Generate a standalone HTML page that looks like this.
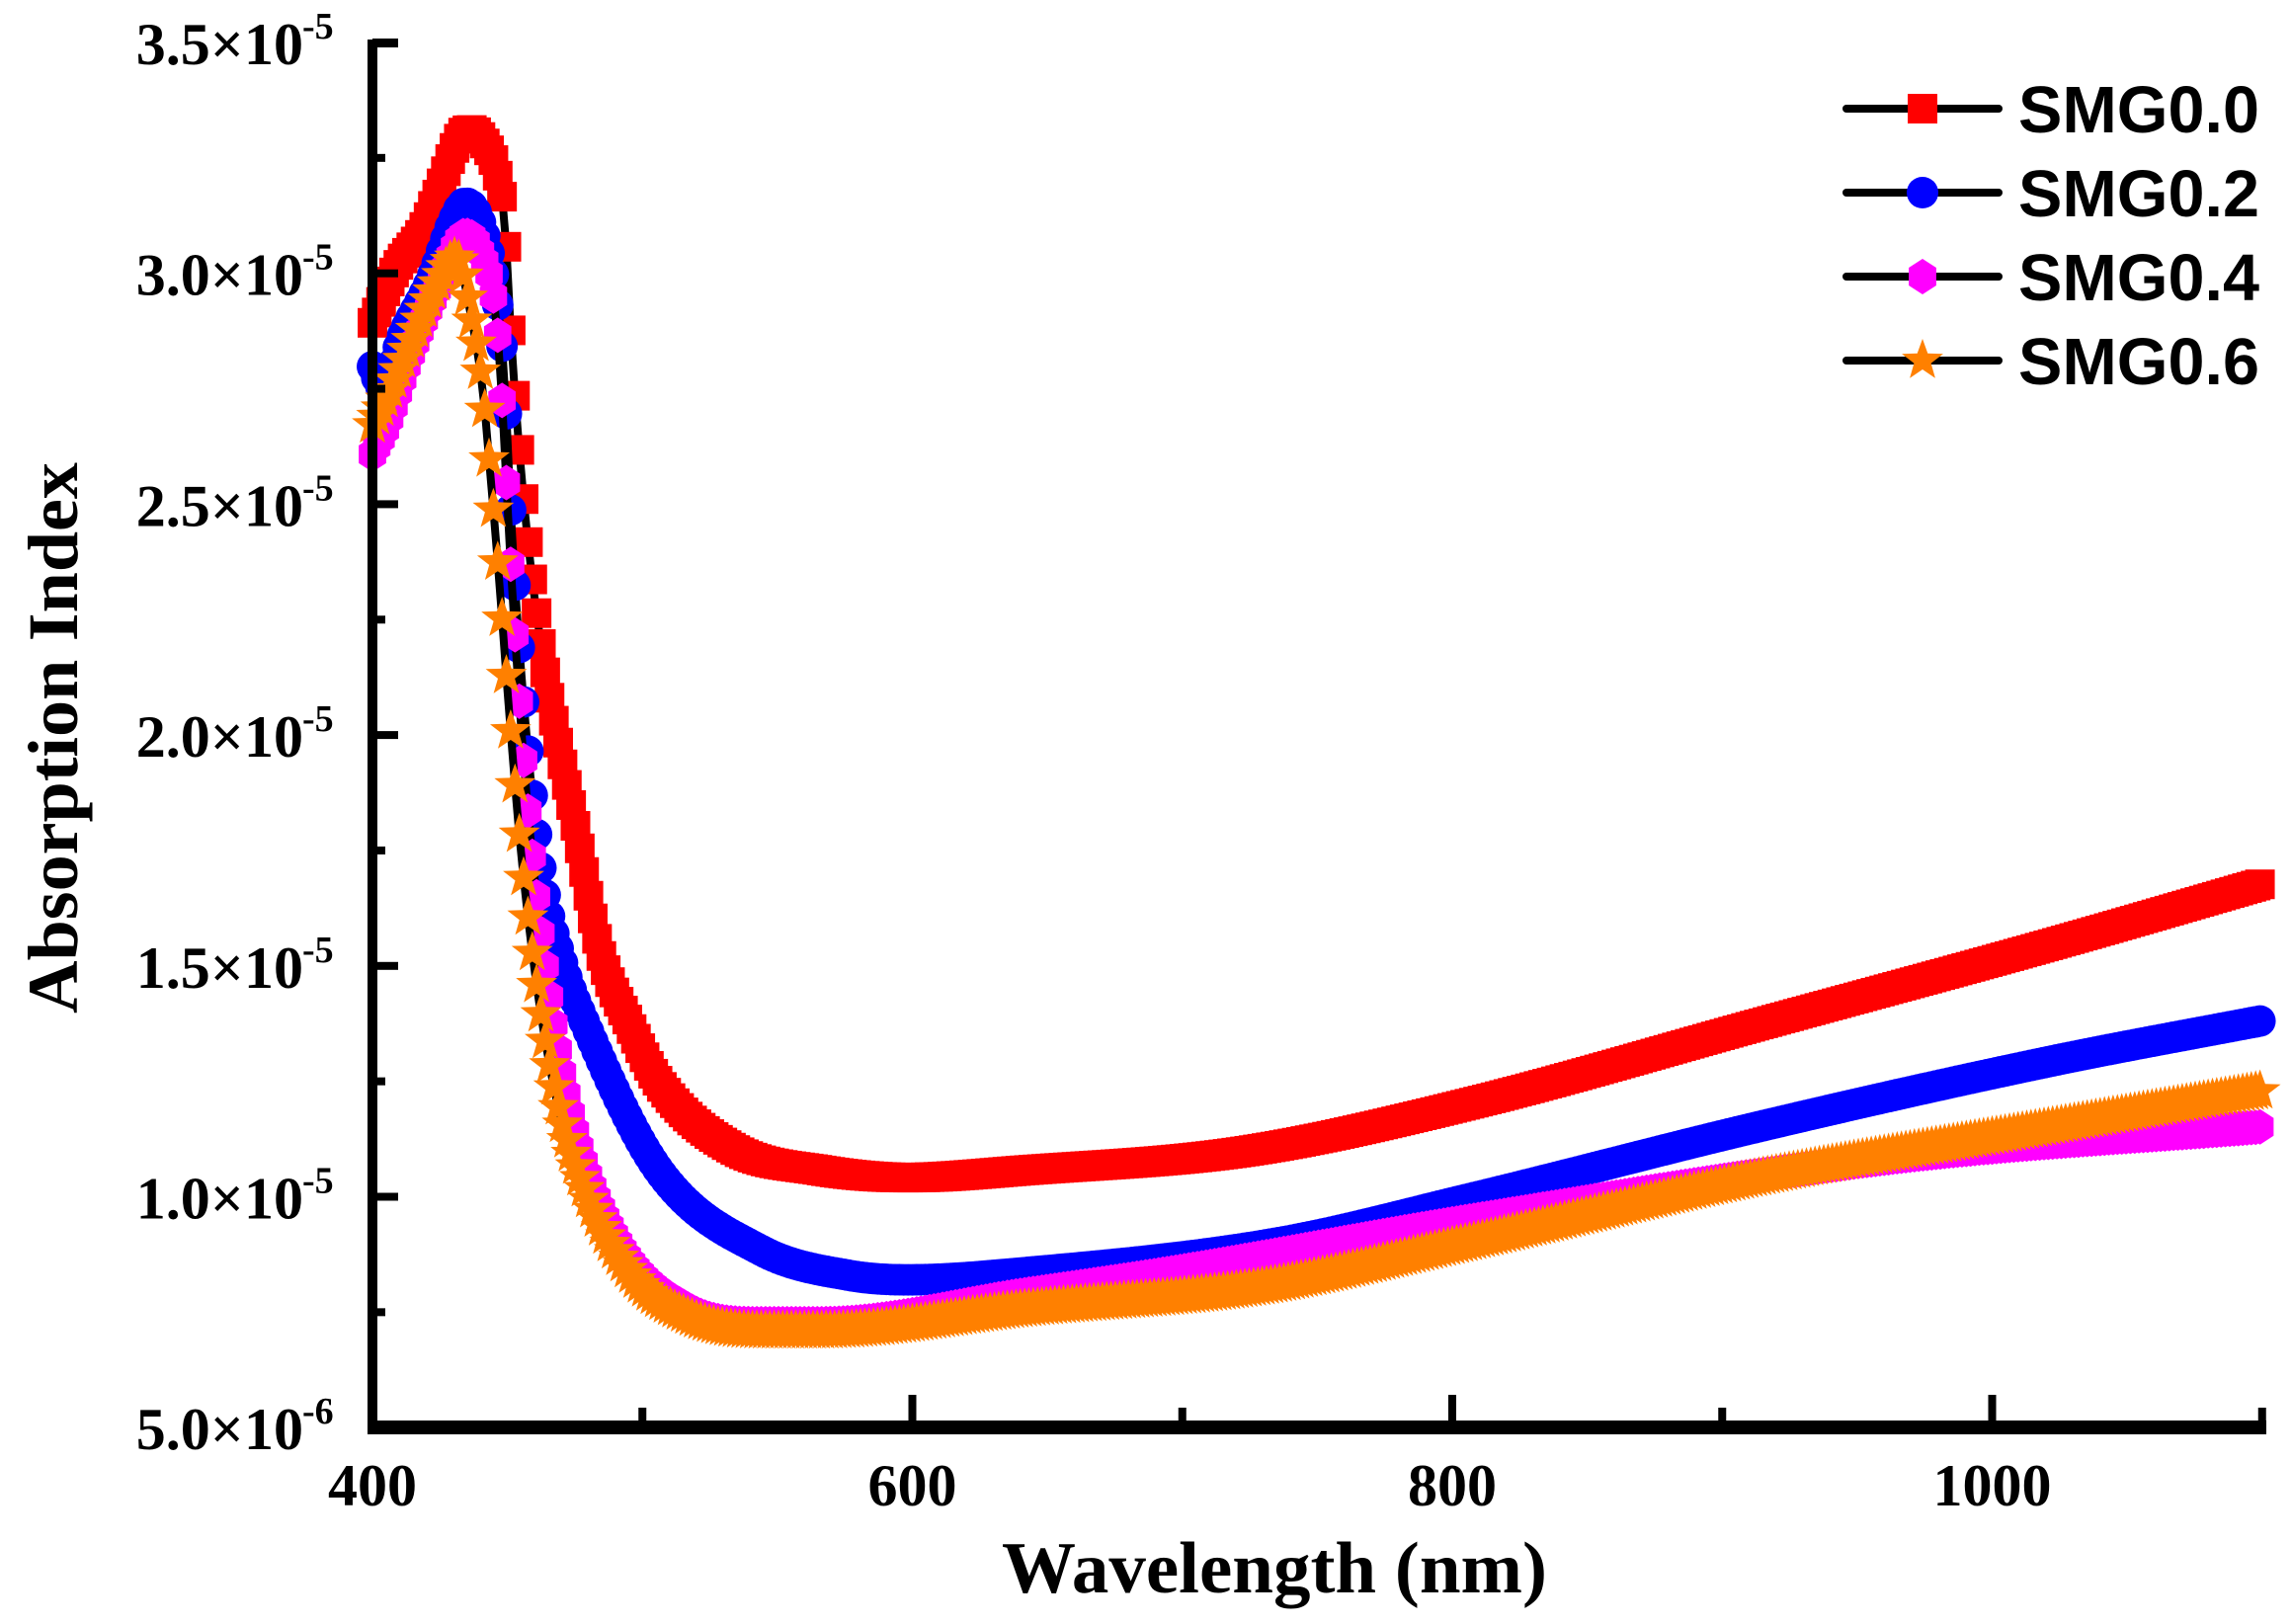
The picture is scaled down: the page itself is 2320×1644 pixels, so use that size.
<!DOCTYPE html>
<html><head><meta charset="utf-8"><style>html,body{margin:0;padding:0;background:#fff}svg{display:block}</style></head>
<body>
<svg id="s" xmlns="http://www.w3.org/2000/svg" width="2320" height="1644" viewBox="0 0 2320 1644">
<rect width="2320" height="1644" fill="#fff"/>
<g id="data"></g>
<g id="axes"></g>
<g font-family="Liberation Serif, serif" font-weight="bold" fill="#000">
<text x="1290" y="1612" font-size="74" text-anchor="middle" textLength="552" lengthAdjust="spacingAndGlyphs">Wavelength (nm)</text>
<text transform="translate(78,747) rotate(-90)" font-size="72" text-anchor="middle" textLength="558" lengthAdjust="spacingAndGlyphs">Absorption Index</text>
</g>
<g id="legend"></g>
</svg>
<script>
var NS="http://www.w3.org/2000/svg";
function el(p,t,a,txt){var e=document.createElementNS(NS,t);for(var k in a)e.setAttribute(k,a[k]);if(txt!=null)e.textContent=txt;p.appendChild(e);return e;}
var X0=377,XS=546.5/200,Y0=1445,YS=233.7/0.5e-5;
function px(w){return X0+(w-400)*XS;}
function py(v){return Y0-(v-5e-6)*YS;}
function dv(y){return 1e-5+(818-y)/158*0.5e-5;}
var axes=document.getElementById('axes');
el(axes,'rect',{x:372,y:40,width:10,height:1412,fill:'#000'});
el(axes,'rect',{x:372,y:1438,width:1922,height:14,fill:'#000'});
el(axes,'rect',{x:372,y:40,width:31,height:8,fill:'#000'});
var labs=['3.5','3.0','2.5','2.0','1.5','1.0','5.0'];
for(var i=0;i<7;i++){var y=43+i*233.7;
 el(axes,'rect',{x:377,y:y-4,width:26,height:8,fill:'#000'});
 if(i<6) el(axes,'rect',{x:377,y:y+116.85-4,width:13,height:8,fill:'#000'});
 el(axes,'text',{x:307,y:y+22,'font-family':'Liberation Serif, serif','font-weight':'bold','font-size':60,'text-anchor':'end'},labs[i]+'×10');
 el(axes,'text',{x:306,y:y-4,'font-family':'Liberation Serif, serif','font-weight':'bold','font-size':38},i<6?'-5':'-6');
}
[400,600,800,1000].forEach(function(w){var x=px(w);
 el(axes,'rect',{x:x-4,y:1412,width:8,height:30,fill:'#000'});
 el(axes,'text',{x:x,y:1524,'font-family':'Liberation Serif, serif','font-weight':'bold','font-size':60,'text-anchor':'middle'},''+w);});
[500,700,900,1100].forEach(function(w){var x=px(w);el(axes,'rect',{x:x-4,y:1425,width:8,height:16,fill:'#000'});});
var C={
r:[[255,220],[270,185],[290,155],[300,130],[315,92],[322,88],[330,95],[340,118],[345,150],[350,240],[357,330],[362,380],[372,455],[383,515],[393,563],[410,650],[430,700],[450,740],[500,785],[560,800],[620,805],[700,800],[850,787],[1000,755],[1200,700],[1400,645],[1545,603]],
b:[[255,250],[262,265],[275,230],[295,190],[310,150],[318,138],[326,145],[335,175],[340,205],[345,260],[350,365],[358,480],[370,595],[385,660],[400,700],[450,800],[520,855],[580,872],[620,875],[700,870],[870,850],[1000,820],[1200,770],[1400,725],[1545,697]],
m:[[255,310],[265,290],[280,245],[300,195],[318,160],[328,170],[340,225],[350,400],[358,520],[370,640],[390,760],[420,845],[470,895],[520,905],[560,905],[700,885],[800,870],[1000,835],[1300,790],[1545,770]],
o:[[255,290],[265,270],[280,235],[298,195],[312,175],[322,215],[330,265],[335,320],[340,380],[348,485],[355,570],[365,660],[380,750],[400,815],[430,870],[470,900],[520,910],[560,910],[700,895],[860,880],[1000,850],[1200,805],[1400,770],[1545,745]]};
function mono(pts){var n=pts.length,d=[],m=[];for(var i=0;i<n-1;i++)d.push((pts[i+1][1]-pts[i][1])/(pts[i+1][0]-pts[i][0]));
 m[0]=d[0];m[n-1]=d[n-2];for(var i=1;i<n-1;i++){m[i]=(d[i-1]*d[i]<=0)?0:(d[i-1]+d[i])/2;}
 for(var i=0;i<n-1;i++){if(d[i]==0){m[i]=m[i+1]=0;continue;}var a=m[i]/d[i],b=m[i+1]/d[i],s=a*a+b*b;if(s>9){var t=3/Math.sqrt(s);m[i]=t*a*d[i];m[i+1]=t*b*d[i];}}
 return function(x){if(x<=pts[0][0])return pts[0][1];for(var i=1;i<n;i++){if(x<=pts[i][0]){var h=pts[i][0]-pts[i-1][0],t=(x-pts[i-1][0])/h,t2=t*t,t3=t2*t;
  return (2*t3-3*t2+1)*pts[i-1][1]+(t3-2*t2+t)*h*m[i-1]+(-2*t3+3*t2)*pts[i][1]+(t3-t2)*h*m[i];}}return pts[n-1][1];};}
function series(key){var f=mono(C[key]),out=[];for(var w=400;w<=1100;w+=1.6){var dx=255+(w-400)/200*367.7;out.push([px(w),py(dv(f(dx)))]);}return out;}
var data=document.getElementById('data');
function marker(g,type,x,y,s){
 s=s||1;
 if(type=='r')el(g,'rect',{x:x-15*s,y:y-15*s,width:30*s,height:30*s,fill:'#ff0000'});
 else if(type=='b')el(g,'circle',{cx:x,cy:y,r:16*s,fill:'#0000ff'});
 else if(type=='m'){var p=[];for(var k=0;k<6;k++){var a=Math.PI/3*k-Math.PI/2;p.push((x+16*s*Math.cos(a)).toFixed(1)+','+(y+18*s*Math.sin(a)).toFixed(1));}el(g,'polygon',{points:p.join(' '),fill:'#ff00ff'});}
 else{var p=[];for(var k=0;k<10;k++){var a=Math.PI/5*k-Math.PI/2,r=k%2?9*s:22*s;p.push((x+r*Math.cos(a)).toFixed(1)+','+(y+r*Math.sin(a)).toFixed(1));}el(g,'polygon',{points:p.join(' '),fill:'#ff8000'});}
}
['r','b','m','o'].forEach(function(k){var s=series(k);
 el(data,'polyline',{points:s.map(function(p){return p[0].toFixed(1)+','+p[1].toFixed(1)}).join(' '),fill:'none',stroke:'#000','stroke-width':8});
 s.forEach(function(p){marker(data,k,p[0],p[1]);});});
var lg=document.getElementById('legend');var names=['SMG0.0','SMG0.2','SMG0.4','SMG0.6'],ks=['r','b','m','o'];
for(var i=0;i<4;i++){var y=110+i*85;
 el(lg,'line',{x1:1869,y1:y,x2:2023,y2:y,stroke:'#000','stroke-width':8,'stroke-linecap':'round'});
 marker(lg,ks[i],1946,y,1);
 el(lg,'text',{x:2043,y:y+24,'font-family':'Liberation Sans, sans-serif','font-weight':'bold','font-size':67,textLength:244,lengthAdjust:'spacingAndGlyphs'},names[i]);}
</script>
</body></html>
